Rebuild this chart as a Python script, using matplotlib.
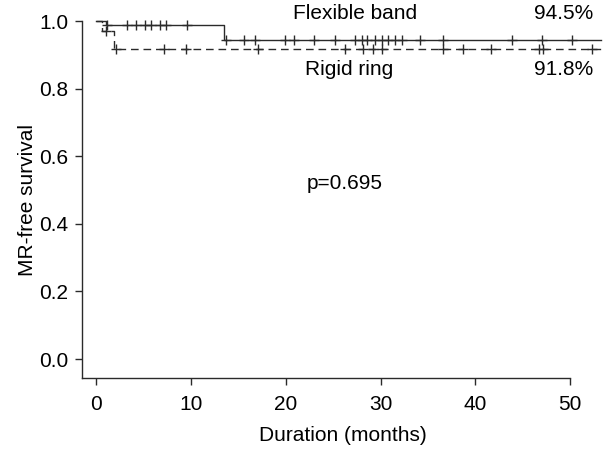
"""
Kaplan-Meier style plot: MR-free survival, flexible band vs rigid ring.
"""

import numpy as np
import matplotlib
matplotlib.use('Agg')
import matplotlib.pyplot as plt

plt.rcParams['font.family'] = ['Liberation Sans', 'DejaVu Sans']

# step times (months) and survival after each step
flex_times = [0, 1.0, 13.5]
flex_surv = [1.0, 0.988, 0.945]
rigid_times = [0, 0.6, 1.9]
rigid_surv = [1.0, 0.970, 0.918]
follow_up_end = 53.2

# censored observations (months)
flex_censor = [1.1, 3.3, 4.2, 5.1, 5.8, 6.7, 7.4, 9.6,
               13.7, 15.6, 16.7, 19.9, 20.9, 23.0, 25.2, 27.3, 28.0, 28.6,
               29.4, 30.1, 30.8, 31.5, 32.3, 34.1, 36.6, 43.9, 47.0, 50.2]
rigid_censor = [1.0, 2.1, 7.2, 9.5, 17.1, 26.2, 28.1, 29.2, 30.1, 36.6,
                38.7, 41.6, 46.7, 47.1, 52.3]

x_ticks = [0, 10, 20, 30, 40, 50]
y_ticks = [0.0, 0.2, 0.4, 0.6, 0.8, 1.0]

p_text = 'p=0.695'
flex_label, flex_pct = 'Flexible band', '94.5%'
rigid_label, rigid_pct = 'Rigid ring', '91.8%'


def surv_at(times, surv, t):
    idx = np.searchsorted(times, t, side='right') - 1
    return np.asarray(surv)[idx]


fig = plt.figure(figsize=(6.05, 4.5), dpi=100)
ax = fig.add_axes([0.1355, 0.16, 0.862, 0.7933])

line_col = '#2a2a2a'
fs = 15

for times, surv, censor, ls in [(flex_times, flex_surv, flex_censor, '-'),
                                (rigid_times, rigid_surv, rigid_censor, (0, (5.5, 3.5)))]:
    xs = list(times) + [follow_up_end]
    ys = list(surv) + [surv[-1]]
    ax.step(xs, ys, where='post', color=line_col, linewidth=1.0,
            linestyle=ls, clip_on=False)
    cy = surv_at(times, surv, censor)
    ax.plot(censor, cy, linestyle='none', marker='+', markersize=7,
            markeredgewidth=1.0, color=line_col, clip_on=False)

ax.set_xlim(-1.5, 53.5)
ax.set_ylim(-0.056, 1.0)
ax.set_xticks(x_ticks)
ax.set_yticks(y_ticks)
ax.set_yticklabels([f'{v:.1f}' for v in y_ticks])

for s in ['top', 'right']:
    ax.spines[s].set_visible(False)
ax.spines['left'].set_bounds(-0.056, 1.0)
ax.spines['bottom'].set_bounds(-1.5, 50)
for s in ['left', 'bottom']:
    ax.spines[s].set_color(line_col)
    ax.spines[s].set_linewidth(1.0)

ax.tick_params(axis='both', direction='out', length=5, width=1.0,
               color=line_col, labelsize=fs)
ax.tick_params(axis='x', pad=7)
ax.tick_params(axis='y', pad=5)

ax.set_xlabel('Duration (months)', fontsize=fs, labelpad=9)
ax.set_ylabel('MR-free survival', fontsize=fs, labelpad=1)

ax.text(27.3, 1.022, flex_label, fontsize=fs, ha='center', va='center', clip_on=False)
ax.text(49.3, 1.022, flex_pct, fontsize=fs, ha='center', va='center', clip_on=False)
ax.text(26.7, 0.858, rigid_label, fontsize=fs, ha='center', va='center')
ax.text(49.3, 0.858, rigid_pct, fontsize=fs, ha='center', va='center')
ax.text(26.2, 0.52, p_text, fontsize=fs, ha='center', va='center')

fig.savefig('out.png', dpi=100)
